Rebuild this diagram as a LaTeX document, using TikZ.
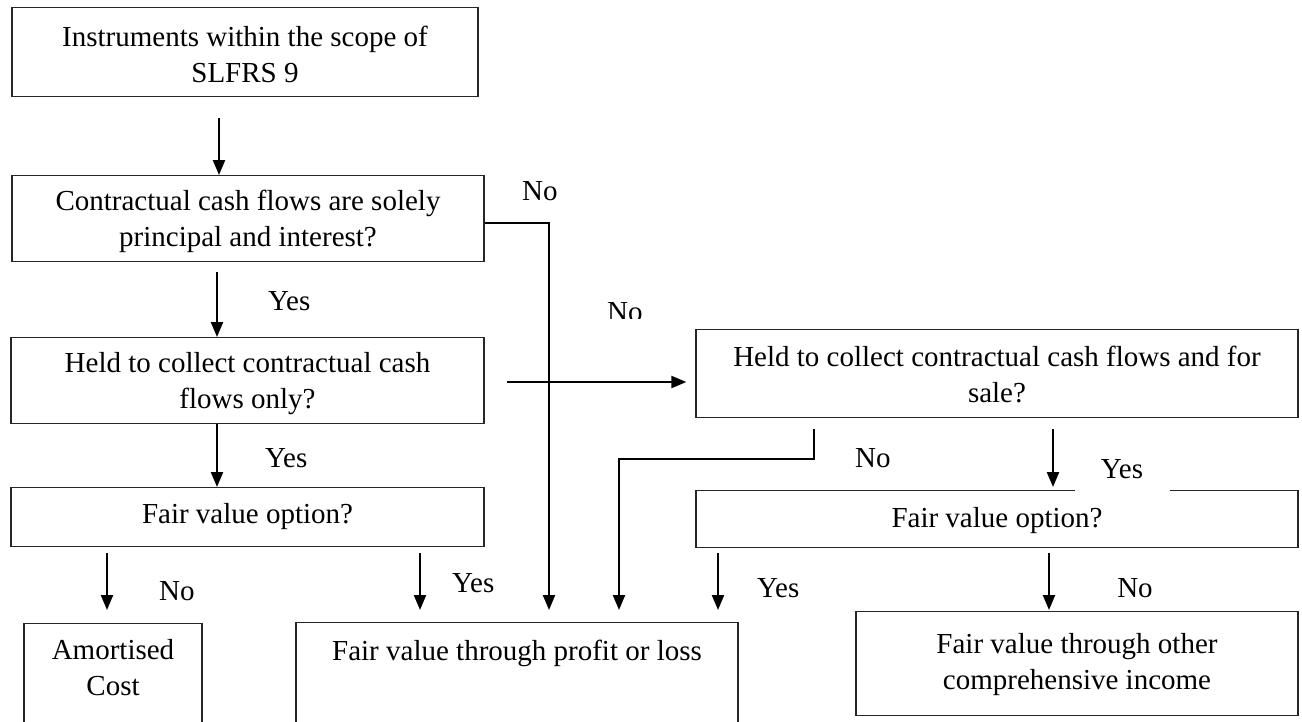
\documentclass[tikz,border=0pt]{standalone}
\usepackage{fontspec}
\setmainfont{Liberation Serif}
\usetikzlibrary{arrows.meta}
\begin{document}
\begin{tikzpicture}[x=1pt,y=-1pt,
  box/.style={draw=black!85, line width=1.3pt, inner sep=0pt, align=center, anchor=north, font=\fontsize{29}{36}\selectfont},
  lbl/.style={anchor=base west, inner sep=0pt, font=\fontsize{29}{36}\selectfont},
  wlbl/.style={anchor=base, inner sep=0pt, fill=white, minimum width=95pt, font=\fontsize{29}{36}\selectfont},
  conn/.style={line width=2.3pt, -{Triangle[length=15pt,width=12pt]}}]
\useasboundingbox (0,0) rectangle (1302,721);
\clip (0,0) rectangle (1302,721);
% boxes
\node[box, minimum width=466pt, text height=75pt, text depth=14pt] (b1) at (245,7) {Instruments within the scope of\\SLFRS 9};
\node[box, minimum width=472pt, text height=71pt, text depth=15pt] (b2) at (248,175) {Contractual cash flows are solely\\principal and interest?};
\node[box, minimum width=473pt, text height=71pt, text depth=15pt] (b3) at (247.5,337) {Held to collect contractual cash\\flows only?};
\node[box, minimum width=473pt, text height=36pt, text depth=23pt] (b4) at (247.5,487) {Fair value option?};
\node[box, minimum width=178pt, text height=72pt, text depth=60pt] (amc) at (113,623) {Amortised\\Cost};
\node[box, minimum width=442pt, text height=38pt, text depth=90pt] (fvpl) at (517,622) {Fair value through profit or loss};
\node[box, minimum width=602pt, text height=73pt, text depth=15pt] (sale) at (997,329) {Held to collect contractual cash flows and for\\sale?};
\node[box, minimum width=602pt, text height=37pt, text depth=20pt] (fvo) at (997,490) {Fair value option?};
\node[box, minimum width=442pt, text height=78pt, text depth=26pt] (oci) at (1077,611) {Fair value through other\\comprehensive income};
% connectors
\coordinate (a1s) at (219,118);
\draw[conn] (a1s) -- (a1s |- b2.north);
\coordinate (a2s) at (217,272);
\draw[conn] (a2s) -- (a2s |- b3.north);
\coordinate (a3s) at (217,424);
\draw[conn] (a3s) -- (a3s |- b4.north);
\coordinate (nv) at (549,223);
\draw[conn, shorten >=12pt] (b2.east |- nv) -- (nv) -- (nv |- fvpl.north);
\coordinate (hs) at (507,382);
\draw[conn, shorten >=9pt] (hs) -- (hs -| sale.west);
\coordinate (l1) at (107,553);
\draw[conn, shorten >=13pt] (l1) -- (l1 |- amc.north);
\coordinate (l2) at (420,553);
\draw[conn, shorten >=12pt] (l2) -- (l2 |- fvpl.north);
\coordinate (l3) at (718,553);
\draw[conn, shorten >=12pt] (l3) -- (l3 |- fvpl.north);
\coordinate (sn1) at (814,429);
\coordinate (sn2) at (619,459);
\draw[conn, shorten >=12pt] (sn1) |- (sn2) -- (sn2 |- fvpl.north);
\coordinate (sy) at (1053,429);
\draw[conn, shorten >=3pt] (sy) -- (sy |- fvo.north);
\coordinate (rn) at (1049,553);
\draw[conn, shorten >=1pt] (rn) -- (rn |- oci.north);
% labels
\node[lbl] (ln1) at (522,200) {No};
\node[lbl] (ly1) at (268,310) {Yes};
\begin{scope}
\clip (590,280) rectangle (670,318);
\node[lbl] (ln2) at (607,321) {No};
\end{scope}
\node[lbl] (ly2) at (265,467) {Yes};
\node[lbl] (ln3) at (159,600) {No};
\node[lbl] (ly3) at (452,592) {Yes};
\node[lbl] (ly4) at (757,597) {Yes};
\node[lbl] (ln4) at (855,467) {No};
\node[wlbl, text depth=13pt] (ly5) at (1122,478) {Yes};
\node[wlbl, text depth=14pt] (ln5) at (1135,597) {No};
\end{tikzpicture}
\end{document}
